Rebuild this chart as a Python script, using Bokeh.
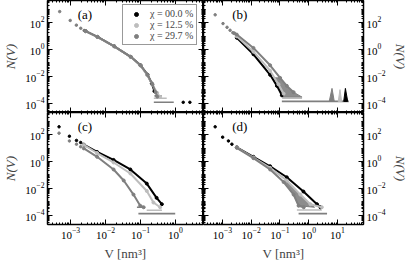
from bokeh.plotting import figure
from bokeh.layouts import gridplot
from bokeh.models import (Range1d, LogAxis, FixedTicker, Label, Legend, LegendItem,
                          CustomJSTickFormatter)
from bokeh.embed import file_html
from bokeh.resources import INLINE

BLACK = "#000000"
LIGHT = "#bdbdbd"
MEDIUM = "#7f7f7f"
FONT = "Liberation Serif"

LEGEND_LABELS = ["\u03c7 = 00.0 %", "\u03c7 = 12.5 %", "\u03c7 = 29.7 %"]
PANEL_LABELS = ["(a)", "(b)", "(c)", "(d)"]

# ---------------- panel (a) ----------------
A_DISC_V = [4.9e-4, 9.8e-4, 1.47e-3, 1.96e-3, 2.45e-3]
A_DISC_N = [660, 145, 65, 38, 26]
A_BLACK_V = [2.7e-3, 5.9e-3, 0.0178, 0.0525, 0.1, 0.158, 0.21, 0.25]
A_BLACK_N = [23.4, 8.7, 1.74, 0.288, 0.068, 0.0135, 3.0e-3, 8.0e-4]
A_LIGHT_V = [2.7e-3, 5.9e-3, 0.0178, 0.0525, 0.1, 0.155, 0.22, 0.30, 0.36]
A_LIGHT_N = [23.0, 8.5, 1.7, 0.28, 0.064, 0.0125, 2.4e-3, 6.0e-4, 3.0e-4]
A_MED_V = [2.7e-3, 5.9e-3, 0.0178, 0.0525, 0.1, 0.158, 0.219, 0.269, 0.30]
A_MED_N = [23.4, 8.7, 1.74, 0.288, 0.0676, 0.0135, 2.6e-3, 6.8e-4, 3.2e-4]
A_ROW_N = [1.2e-4, 2.4e-4, 3.6e-4]
A_ROW_V0 = [0.24, 0.24, 0.25]
A_ROW_V1 = [0.89, 0.56, 0.40]
A_ROW_C = [MEDIUM, LIGHT, MEDIUM]
A_TAIL_V = [1.66, 2.57]
A_TAIL_N = [1.2e-4, 1.2e-4]

# ---------------- panel (b) ----------------
B_DISC_V = [5.6e-4, 1.05e-3, 1.45e-3, 1.85e-3, 2.3e-3]
B_DISC_N = [380, 85, 45, 27, 18]
B_BLACK_V = [3.16e-3, 0.012, 0.0457, 0.079, 0.117]
B_BLACK_N = [7.5, 0.447, 0.0132, 2.0e-3, 4.0e-4]
B_LIGHT_V = [3.16e-3, 0.012, 0.0457, 0.089, 0.135]
B_LIGHT_N = [9.5, 0.69, 0.0269, 2.63e-3, 5.2e-4]
B_MED_V = [2.6e-3, 3.16e-3, 0.012, 0.0457, 0.102, 0.174, 0.30]
B_MED_N = [16, 12.9, 1.32, 0.0676, 7.8e-3, 2.0e-3, 6.8e-4]
B_FAN_V = [0.10, 0.174, 0.30, 0.59, 0.12, 0.089, 0.06]
B_FAN_N = [7.8e-3, 2.0e-3, 6.8e-4, 2.9e-4, 2.9e-4, 2.63e-3, 8.0e-3]
B_ROW_N = [1.4e-4, 2.4e-4]
B_ROW_V0 = [0.117, 0.12]
B_ROW_V1 = [25.0, 0.59]
B_ROW_C = [MEDIUM, LIGHT]
B_TRI_V0 = [5.2, 10.7, 16.6]
B_TRI_VP = [6.5, 12.3, 19.0]
B_TRI_V1 = [7.8, 14.1, 22.9]
B_TRI_NP = [1.3e-3, 1.05e-3, 1.3e-3]
B_TRI_N0 = 1.4e-4
B_TRI_C = [MEDIUM, LIGHT, BLACK]

# ---------------- panel (c) ----------------
C_DISC_V = [4.7e-4, 9.3e-4, 1.48e-3, 1.95e-3]
C_DISC_UP_N = [380, 76, 37, 26]
C_DISC_LOW_N = [129, 34, 19.5, 12.6]
C_BLACK_V = [2.4e-3, 5.75e-3, 0.017, 0.0513, 0.151, 0.288, 0.407]
C_BLACK_N = [18, 5.13, 1.32, 0.257, 0.0229, 2.0e-3, 6.8e-4]
C_LIGHT_V = [2.4e-3, 5.75e-3, 0.017, 0.0513, 0.151, 0.234, 0.363]
C_LIGHT_N = [17, 4.3, 0.85, 0.13, 6.5e-3, 9.0e-4, 4.0e-4]
C_MED_V = [2.4e-3, 5.75e-3, 0.017, 0.0331, 0.063, 0.098, 0.123]
C_MED_N = [9.5, 2.24, 0.257, 0.039, 3.5e-3, 5.2e-4, 4.0e-4]
C_ROW_N = [1.35e-4, 2.4e-4, 4.0e-4]
C_ROW_V0 = [0.087, 0.15, 0.079]
C_ROW_V1 = [0.98, 0.41, 0.123]
C_ROW_C = [MEDIUM, LIGHT, MEDIUM]

# ---------------- panel (d) ----------------
D_DISC_V = [5.6e-4, 1.02e-3, 1.62e-3, 2.14e-3]
D_DISC_N = [380, 65, 34, 19.5]
D_BLACK_V = [3.16e-3, 0.012, 0.0457, 0.174, 0.66, 1.95, 2.57]
D_BLACK_N = [11.5, 2.24, 0.447, 0.0676, 5.9e-3, 6.8e-4, 4.0e-4]
D_LIGHT_V = [3.16e-3, 0.012, 0.0457, 0.174, 0.513, 1.15, 2.88]
D_LIGHT_N = [11.0, 2.0, 0.339, 0.039, 3.5e-3, 6.8e-4, 4.0e-4]
D_MED_V = [3.16e-3, 0.012, 0.0457, 0.135, 0.30, 0.447, 0.676]
D_MED_N = [10.5, 1.78, 0.257, 0.030, 3.5e-3, 5.2e-4, 4.0e-4]
D_FAN_V = [0.135, 0.30, 0.447, 1.6, 1.15, 0.513, 0.174]
D_FAN_N = [0.030, 3.5e-3, 5.2e-4, 4.0e-4, 6.8e-4, 3.5e-3, 0.039]
D_ROW_N = [1.35e-4, 2.5e-4]
D_ROW_V0 = [0.447, 0.39]
D_ROW_V1 = [4.37, 2.88]
D_ROW_C = [MEDIUM, LIGHT]

# axis limits and ticks
Y_LIM = (2.1e-5, 4.4e3)
X_LIM_LEFT = (2.2e-4, 6.3)
X_LIM_RIGHT = (2.2e-4, 81.0)
X_DECADES = [1e-4, 1e-3, 1e-2, 1e-1, 1e0, 1e1, 1e2]
Y_LABELED = [1e-4, 1e-2, 1e0, 1e2]
Y_ODD = [1e-5, 1e-3, 1e-1, 1e1, 1e3]
ALL_DECADES = [1e-5, 1e-4, 1e-3, 1e-2, 1e-1, 1e0, 1e1, 1e2, 1e3]
MINOR = [m * d for d in ALL_DECADES for m in range(2, 10)]

FH = 112


def make_axis(kind, labeled, label=None):
    if kind == "y":
        ticker = FixedTicker(ticks=Y_LABELED, minor_ticks=MINOR + Y_ODD)
    else:
        ticker = FixedTicker(ticks=X_DECADES, minor_ticks=MINOR)
    ax = LogAxis(ticker=ticker)
    ax.major_tick_in = 5
    ax.major_tick_out = 0
    ax.minor_tick_in = 2
    ax.minor_tick_out = 0
    ax.axis_line_color = BLACK
    ax.axis_line_width = 1.5
    ax.major_tick_line_width = 1
    if labeled:
        ax.major_label_text_font = FONT
        ax.major_label_text_font_size = "11px"
        ax.major_label_text_color = BLACK
        ax.major_label_standoff = 3
    else:
        ax.formatter = CustomJSTickFormatter(code="return ''")
        ax.major_label_standoff = 0
        ax.major_label_text_font_size = "2px"
    if label:
        ax.axis_label = label
        ax.axis_label_text_font = FONT
        ax.axis_label_text_font_size = "13px"
        ax.axis_label_standoff = 4
        ax.axis_label_text_font_style = "italic" if label.startswith("N") else "normal"
    return ax


def make_fig(xlim, fw, bl, br, bb, left_lab, right_lab, bottom_lab):
    p = figure(x_axis_type="log", y_axis_type="log",
               x_range=Range1d(*xlim), y_range=Range1d(*Y_LIM),
               frame_width=fw, frame_height=FH,
               output_backend="svg", toolbar_location=None,
               x_axis_location=None, y_axis_location=None,
               min_border_left=bl, min_border_right=br,
               min_border_top=0, min_border_bottom=bb)
    for g in p.grid:
        g.visible = False
    p.outline_line_color = BLACK
    p.outline_line_width = 1
    p.background_fill_color = "white"
    p.border_fill_color = "white"
    p.add_layout(make_axis("y", left_lab, "N(V)" if left_lab else None), "left")
    p.add_layout(make_axis("y", right_lab, "N(V)" if right_lab else None), "right")
    p.add_layout(make_axis("x", False), "above")
    p.add_layout(make_axis("x", bottom_lab, "V [nm\u00b3]" if bottom_lab else None), "below")
    return p


def curve(p, v, n, color):
    p.line(v, n, line_color=color, line_width=2)
    return p.scatter(v, n, size=3, marker="circle", fill_color=color, line_color=color)


def rows(p, lv, v0, v1, colors):
    p.segment(x0=v0, y0=lv, x1=v1, y1=lv, line_color=colors, line_width=1.6)


def panel_label(p, x, text):
    p.add_layout(Label(x=x, y=380, text=text, text_font=FONT, text_font_size="13px",
                       text_baseline="middle", text_color=BLACK))


pa = make_fig(X_LIM_LEFT, 156, 42, 0, 0, True, False, False)
pb = make_fig(X_LIM_RIGHT, 160, 0, 41, 0, False, True, False)
pc = make_fig(X_LIM_LEFT, 156, 42, 0, 40, True, False, True)
pd = make_fig(X_LIM_RIGHT, 160, 0, 41, 40, False, True, True)

# (a)
rows(pa, A_ROW_N, A_ROW_V0, A_ROW_V1, A_ROW_C)
pa.scatter(A_TAIL_V, A_TAIL_N, size=2.5, color=BLACK)
pa.scatter(A_DISC_V, A_DISC_N, size=2.5, color=MEDIUM)
ra_k = curve(pa, A_BLACK_V, A_BLACK_N, BLACK)
ra_l = curve(pa, A_LIGHT_V, A_LIGHT_N, LIGHT)
ra_m = curve(pa, A_MED_V, A_MED_N, MEDIUM)
panel_label(pa, 1.6e-3, PANEL_LABELS[0])
legend = Legend(items=[LegendItem(label=LEGEND_LABELS[0], renderers=[ra_k]),
                       LegendItem(label=LEGEND_LABELS[1], renderers=[ra_l]),
                       LegendItem(label=LEGEND_LABELS[2], renderers=[ra_m])],
                location=(75, 67), label_text_font=FONT, label_text_font_size="10px",
                label_height=10, glyph_height=10, glyph_width=20, label_standoff=4,
                spacing=0, padding=3, margin=0, border_line_color="#333333",
                border_line_width=1, background_fill_color="white", background_fill_alpha=1)
pa.add_layout(legend, "center")

# (b)
pb.patch(B_FAN_V, B_FAN_N, fill_color=MEDIUM, line_color=MEDIUM, fill_alpha=0.9)
rows(pb, B_ROW_N, B_ROW_V0, B_ROW_V1, B_ROW_C)
pb.patches([[a, b, c] for a, b, c in zip(B_TRI_V0, B_TRI_VP, B_TRI_V1)],
           [[B_TRI_N0, h, B_TRI_N0] for h in B_TRI_NP],
           fill_color=B_TRI_C, line_color=B_TRI_C)
pb.scatter(B_DISC_V, B_DISC_N, size=2.5, color=MEDIUM)
curve(pb, B_BLACK_V, B_BLACK_N, BLACK)
curve(pb, B_LIGHT_V, B_LIGHT_N, LIGHT)
curve(pb, B_MED_V, B_MED_N, MEDIUM)
panel_label(pb, 2.2e-3, PANEL_LABELS[1])

# (c)
rows(pc, C_ROW_N, C_ROW_V0, C_ROW_V1, C_ROW_C)
pc.scatter(C_DISC_V, C_DISC_UP_N, size=2.5, color=BLACK)
pc.scatter(C_DISC_V, C_DISC_LOW_N, size=2.5, color=MEDIUM)
curve(pc, C_BLACK_V, C_BLACK_N, BLACK)
curve(pc, C_LIGHT_V, C_LIGHT_N, LIGHT)
curve(pc, C_MED_V, C_MED_N, MEDIUM)
panel_label(pc, 1.6e-3, PANEL_LABELS[2])

# (d)
pd.patch(D_FAN_V, D_FAN_N, fill_color=MEDIUM, line_color=MEDIUM, fill_alpha=0.9)
rows(pd, D_ROW_N, D_ROW_V0, D_ROW_V1, D_ROW_C)
pd.scatter(D_DISC_V, D_DISC_N, size=2.5, color=BLACK)
curve(pd, D_BLACK_V, D_BLACK_N, BLACK)
curve(pd, D_LIGHT_V, D_LIGHT_N, LIGHT)
curve(pd, D_MED_V, D_MED_N, MEDIUM)
panel_label(pd, 2.2e-3, PANEL_LABELS[3])

grid = gridplot([[pa, pb], [pc, pd]], toolbar_location=None)

with open("out.html", "w") as f:
    f.write(file_html(grid, INLINE))
